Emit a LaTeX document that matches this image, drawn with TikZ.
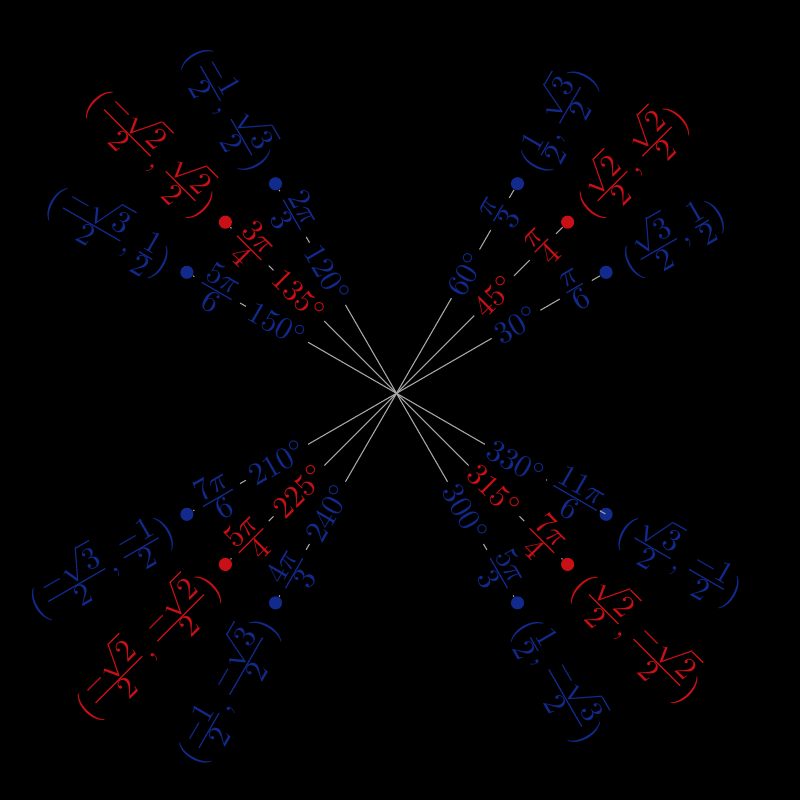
\documentclass[tikz,border=0pt]{standalone}
\usepackage{amsmath,amssymb}
\usepackage{tikz}
\usetikzlibrary{positioning}
\definecolor{ublue}{RGB}{18,42,140}
\definecolor{ured}{RGB}{200,16,22}
% tight fraction with full-size parts
\newcommand{\tf}[2]{\frac{\textstyle #1}{\textstyle #2}}

\begin{document}
\begin{tikzpicture}[x=0.32pt, y=0.32pt,
    spoke/.style = {gray!70, line width=0.35pt},
    ptdot/.style = {circle, inner sep=0pt, minimum size=4.2pt},
    lbl/.style = {inner sep=1.5pt}]
    \fill [black] (-396.5,-406.7) rectangle (403.5,393.3);
    \useasboundingbox (-396.5,-406.7) rectangle (403.5,393.3);
    \coordinate (o) at (0,0);

    % right half: labels read outwards
    \foreach \a/\c/\r/\p in {
        30/ublue/{\tf{\pi}{6}}/{\tf{\sqrt{3}}{2},\tf{1}{2}},
        45/ured/{\tf{\pi}{4}}/{\tf{\sqrt{2}}{2},\tf{\sqrt{2}}{2}},
        60/ublue/{\tf{\pi}{3}}/{\tf{1}{2},\tf{\sqrt{3}}{2}},
        300/ublue/{\tf{5\pi}{3}}/{\tf{1}{2},\tf{-\sqrt{3}}{2}},
        315/ured/{\tf{7\pi}{4}}/{\tf{\sqrt{2}}{2},\tf{-\sqrt{2}}{2}},
        330/ublue/{\tf{11\pi}{6}}/{\tf{\sqrt{3}}{2},\tf{-1}{2}}}
    {
      \node (deg\a) [lbl, text=\c, rotate=\a] at (\a:138) {$\a^\circ$};
      \node (rad\a) [lbl, text=\c, rotate=\a] at (\a:207) {$\r$};
      \node (dot\a) [ptdot, fill=\c] at (\a:242) {};
      \node (xy\a) [lbl, text=\c, rotate=\a, anchor=west] at (\a:255)
        {$\bigl(\p\bigr)$};
      \draw [spoke] (o) -- (deg\a) (deg\a) -- (rad\a) (rad\a) -- (dot\a);
    }

    % left half: labels read inwards
    \foreach \a/\c/\r/\p in {
        120/ublue/{\tf{2\pi}{3}}/{\tf{-1}{2},\tf{\sqrt{3}}{2}},
        135/ured/{\tf{3\pi}{4}}/{\tf{-\sqrt{2}}{2},\tf{\sqrt{2}}{2}},
        150/ublue/{\tf{5\pi}{6}}/{\tf{-\sqrt{3}}{2},\tf{1}{2}},
        210/ublue/{\tf{7\pi}{6}}/{\tf{-\sqrt{3}}{2},\tf{-1}{2}},
        225/ured/{\tf{5\pi}{4}}/{\tf{-\sqrt{2}}{2},\tf{-\sqrt{2}}{2}},
        240/ublue/{\tf{4\pi}{3}}/{\tf{-1}{2},\tf{-\sqrt{3}}{2}}}
    {
      \node (deg\a) [lbl, text=\c, rotate=\a-180] at (\a:138) {$\a^\circ$};
      \node (rad\a) [lbl, text=\c, rotate=\a-180] at (\a:207) {$\r$};
      \node (dot\a) [ptdot, fill=\c] at (\a:242) {};
      \node (xy\a) [lbl, text=\c, rotate=\a-180, anchor=east] at (\a:255)
        {$\bigl(\p\bigr)$};
      \draw [spoke] (o) -- (deg\a) (deg\a) -- (rad\a) (rad\a) -- (dot\a);
    }
\end{tikzpicture}
\end{document}
